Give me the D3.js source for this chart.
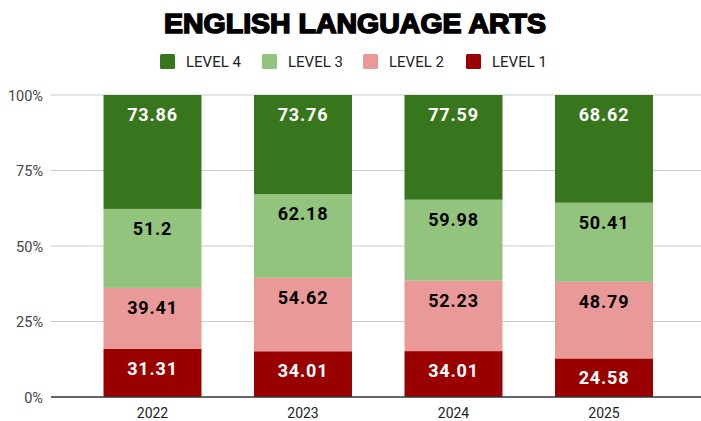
<!DOCTYPE html>
<html><head><meta charset="utf-8">
<script src="https://cdn.jsdelivr.net/npm/d3@7"></script>
<style>html,body{margin:0;padding:0;background:#fff;}svg{display:block;}</style>
</head><body>
<script>
const years = ["2022", "2023", "2024", "2025"];
const seriesNames = ["LEVEL 1", "LEVEL 2", "LEVEL 3", "LEVEL 4"];
const level1 = [31.31, 34.01, 34.01, 24.58];
const level2 = [39.41, 54.62, 52.23, 48.79];
const level3 = [51.2, 62.18, 59.98, 50.41];
const level4 = [73.86, 73.76, 77.59, 68.62];
const colors = ["#990000", "#ea9999", "#93c47d", "#38761d"];
const labelColors = ["#ffffff", "#000000", "#000000", "#ffffff"];
const yTicks = [0, 0.25, 0.5, 0.75, 1];
const title = "ENGLISH LANGUAGE ARTS";

const W = 701, H = 421;
const svg = d3.select("body").append("svg").attr("width", W).attr("height", H);

const rows = years.map((y, i) => ({year: y, "LEVEL 1": level1[i], "LEVEL 2": level2[i], "LEVEL 3": level3[i], "LEVEL 4": level4[i]}));
const stack = d3.stack().keys(seriesNames).offset(d3.stackOffsetExpand);
const stacked = stack(rows);

const x = d3.scaleBand().domain(years).range([77.25, 679.25]).paddingInner(0.349).paddingOuter(0.1745);
const y = d3.scaleLinear().domain([0, 1]).range([397, 95]);

// gridlines
svg.append("g").selectAll("line").data(yTicks.filter(t => t > 0)).join("line")
  .attr("x1", 51).attr("x2", W).attr("y1", d => y(d)).attr("y2", d => y(d))
  .attr("stroke", "#cccccc").attr("stroke-width", 1);

// y axis labels
const yAxis = d3.axisLeft(y).tickValues(yTicks).tickFormat(d3.format(".0%")).tickSize(0).tickPadding(0);
const ya = svg.append("g").attr("transform", "translate(43,0)").call(yAxis);
ya.select(".domain").remove();
ya.selectAll("text").attr("font-family", "Roboto").attr("font-size", 14.5).attr("fill", "#444444").attr("dy", "0.35em");

// bars
const groups = svg.append("g").selectAll("g").data(stacked).join("g")
  .attr("fill", (d, i) => colors[i]);
groups.selectAll("rect").data(d => d.map(v => ({v, key: d.key}))).join("rect")
  .attr("x", d => x(d.v.data.year))
  .attr("width", x.bandwidth())
  .attr("y", d => y(d.v[1]))
  .attr("height", d => y(d.v[0]) - y(d.v[1]));

// labels
svg.append("g").selectAll("g").data(stacked).join("g")
  .each(function(s, si) {
    d3.select(this).selectAll("text").data(s).join("text")
      .attr("x", d => x(d.data.year) + x.bandwidth() / 2)
      .attr("y", d => y(d[1]) + 26)
      .attr("text-anchor", "middle")
      .attr("font-family", "Roboto").attr("font-weight", "bold").attr("font-size", 18)
      .attr("letter-spacing", 0.8)
      .attr("fill", labelColors[si])
      .text(d => d.data[s.key]);
  });

// baseline
svg.append("line").attr("x1", 51).attr("x2", W).attr("y1", y(0)).attr("y2", y(0))
  .attr("stroke", "#333333").attr("stroke-width", 1.3);

// x axis
const xAxis = d3.axisBottom(x).tickSize(0).tickPadding(0);
const xa = svg.append("g").attr("transform", "translate(0,418)").call(xAxis);
xa.select(".domain").remove();
xa.selectAll("text").attr("font-family", "Roboto").attr("font-size", 14).attr("fill", "#222222").attr("dy", 0);

// title
svg.append("text").attr("x", 355).attr("y", 33).attr("text-anchor", "middle")
  .attr("font-family", "Liberation Sans").attr("font-weight", "bold").attr("font-size", 27.5)
  .attr("stroke", "#000").attr("stroke-width", 1.6).attr("fill", "#000")
  .attr("textLength", 382).attr("lengthAdjust", "spacingAndGlyphs")
  .text(title);

// legend
const legendOrder = ["LEVEL 4", "LEVEL 3", "LEVEL 2", "LEVEL 1"];
const legendX = [160, 262, 363, 466];
const lg = svg.append("g").selectAll("g").data(legendOrder).join("g")
  .attr("transform", (d, i) => `translate(${legendX[i]},54)`);
lg.append("rect").attr("width", 15).attr("height", 15).attr("rx", 1.5)
  .attr("fill", d => colors[seriesNames.indexOf(d)]);
lg.append("text").attr("x", 26).attr("y", 13).attr("font-family", "Roboto").attr("font-size", 15)
  .attr("fill", "#222222").text(d => d);
</script>
</body></html>
